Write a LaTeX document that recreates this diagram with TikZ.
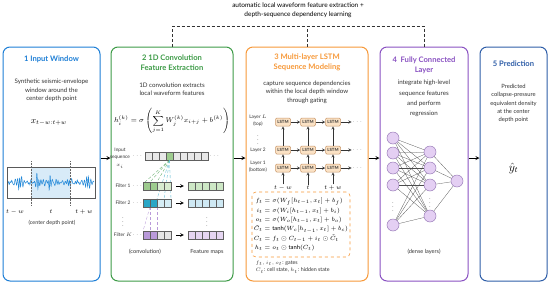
\documentclass[tikz,border=0pt]{standalone}
\usepackage{amsmath, amssymb}
\usepackage{fontspec}
\setmainfont{Lato}
\usepackage{tikz}

\definecolor{inblue}{HTML}{1E7FD6}
\definecolor{convgreen}{HTML}{3D9B47}
\definecolor{lstmorange}{HTML}{F7993A}
\definecolor{fcpurple}{HTML}{8A52C2}
\definecolor{predblue}{HTML}{2F5EA8}
\definecolor{txtgray}{HTML}{333333}
\definecolor{waveblue}{HTML}{2288D8}
\definecolor{winshade}{HTML}{D8EBF8}
\definecolor{fonedark}{HTML}{9DCB8E}
\definecolor{fonelight}{HTML}{D7EBD0}
\definecolor{ftwodark}{HTML}{2AA6C6}
\definecolor{ftwolight}{HTML}{D5EDF5}
\definecolor{fkdark}{HTML}{B99AD9}
\definecolor{fklight}{HTML}{E4E4E4}
\definecolor{mapgreen}{HTML}{CDE7C5}
\definecolor{mapblue}{HTML}{CFE9F4}
\definecolor{mappurple}{HTML}{E6D6F2}
\definecolor{lstmfill}{HTML}{FBE2C5}
\definecolor{lstmedge}{HTML}{C8976A}
\definecolor{neuronfill}{HTML}{E4CFF3}
\definecolor{neuronedge}{HTML}{9B7DBA}

\begin{document}
\begin{tikzpicture}[x=1pt, y=-1pt, >=stealth,
    panel/.style={draw=#1, line width=1pt, rounded corners=7pt, fill=white, minimum height=234pt},
    ptitle/.style={font=\fontsize{7.6}{10}\selectfont\bfseries, align=center, text=#1},
    ptext/.style={font=\fontsize{6.2}{8.5}\selectfont, align=center, text=txtgray},
    lbl/.style={font=\fontsize{4.8}{7.8}\selectfont, align=center, text=txtgray},
    cell/.style={draw=gray!75!black, line width=0.35pt, minimum width=7pt, minimum height=8pt, inner sep=0pt, fill=#1},
    lstm/.style={draw=lstmedge, fill=lstmfill, line width=0.5pt, rounded corners=1.2pt, minimum width=15pt, minimum height=8pt, inner sep=0pt, font=\fontsize{4.3}{5}\selectfont\bfseries, text=txtgray},
    neuron/.style={circle, draw=neuronedge, fill=neuronfill, line width=0.5pt, minimum size=12pt, inner sep=0pt},
    flow/.style={->, line width=0.8pt},
    link/.style={->, line width=0.45pt, txtgray},
    wire/.style={line width=0.25pt, gray!60!black},
    bus/.style={line width=0.8pt, txtgray, dash pattern=on 3pt off 2pt},
    declare function={wenv(\u)=4.3+9*exp(max(-20,-((\u-50)/1.0)^2))+5*exp(max(-20,-((\u-37)/1.6)^2))+3*exp(max(-20,-((\u-20)/2.5)^2))+3*exp(max(-20,-((\u-88)/2)^2))-2*exp(max(-20,-((\u-63)/5)^2));
      wsig(\u)=0.5*sin(151*\u+80*sin(37*\u))+0.3*sin(167*\u+40)+0.25*sin(71*\u+10);}]
  \useasboundingbox (0,0) rectangle (550,285);

  % 5つのパネル
  \node[panel=inblue, minimum width=97pt] (p1) at (51.5,164) {};
  \node[panel=convgreen, minimum width=122pt] (p2) at (172,164) {};
  \node[panel=lstmorange, minimum width=122pt] (p3) at (307,164) {};
  \node[panel=fcpurple, minimum width=88pt] (p4) at (424,164) {};
  \node[panel=predblue, minimum width=67pt] (p5) at (513.5,164) {};
  \draw[flow] ([yshift=6pt]p1.east) -- ([yshift=6pt]p2.west);
  \draw[flow] ([yshift=6pt]p2.east) -- ([yshift=6pt]p3.west);
  \draw[flow] ([yshift=6pt]p3.east) -- ([yshift=6pt]p4.west);
  \draw[flow] ([yshift=6pt]p4.east) -- ([yshift=6pt]p5.west);

  % 上の破線
  \coordinate (bus2) at (p2.north |- 0,26);
  \coordinate (bus3) at (p3.north |- 0,26);
  \coordinate (bus4) at (p4.north |- 0,26);
  \draw[bus] (p2.north) -- (bus2) -- (bus4) -- (p4.north);
  \draw[bus] (p3.north) -- (bus3);
  \node[font=\fontsize{6.5}{9.5}\selectfont, align=center, text=black] (toplab) at (298,10)
    {automatic local waveform feature extraction +\\depth-sequence dependency learning};

  % 1 入力窓
  \node[ptitle=inblue] (t1) at (51.5,59) {1 Input Window};
  \node[ptext] (d1) at (51.5,90.5) {Synthetic seismic-envelope\\window around the\\center depth point};
  \node[font=\fontsize{9}{10}\selectfont] (xwin) at (49,122) {$x_{t-w:t+w}$};
  \fill[winshade] (31,167) rectangle (70,198);
  \begin{scope}
    \clip (7,167) rectangle (95,198);
    \draw[waveblue, line width=0.5pt] plot[domain=8:94, samples=300] (\x, {182.5-wenv(\x)*wsig(\x)});
  \end{scope}
  \draw[gray!70!black, line width=0.6pt] (7,167) rectangle (95,198);
  \draw[densely dotted, gray!80!black, line width=0.5pt] (31,161) -- (31,205);
  \draw[densely dotted, gray!80!black, line width=0.5pt] (70,161) -- (70,205);
  \node[font=\fontsize{6.5}{8}\selectfont] (tminus) at (15,212) {$t-w$};
  \node[font=\fontsize{6.5}{8}\selectfont] (tzero) at (51,212) {$t$};
  \node[font=\fontsize{6.5}{8}\selectfont] (tplus) at (84,212) {$t+w$};
  \node[ptext, font=\fontsize{5.4}{7}\selectfont] (cdp) at (52,223) {(center depth point)};

  % 2 1D畳み込み
  \node[ptitle=convgreen] (t2) at (172,63) {2 1D Convolution\\Feature Extraction};
  \node[ptext] (d2) at (172,89) {1D convolution extracts\\local waveform features};
  \node[font=\fontsize{6.9}{9}\selectfont, inner sep=1pt] (conv) at (172,121)
    {$h_i^{(k)} = \sigma\left(\displaystyle\sum_{j=1}^{K} W_j^{(k)} x_{i+j} + b^{(k)}\right)$};
  \node[lbl] (inlab) at (120,158) {Input\\sequence\\$x_i$};
  \foreach \i in {0,...,8} {
    \ifnum\i=3
      \node[cell=fonedark] (in\i) at ({148.5+7*\i},156) {};
    \else
      \node[cell=gray!18] (in\i) at ({148.5+7*\i},156) {};
    \fi
  }
  \node[lbl] (indotl) at (138,156) {$\cdots$};
  \node[lbl] (indotr) at (215,156) {$\cdots$};
  % ファン
  \draw[convgreen!80, densely dashed, line width=0.35pt] (in3.south) -- (145,182);
  \draw[convgreen!80, densely dashed, line width=0.35pt] (in3.south) -- (150,182);
  \draw[convgreen!80, densely dashed, line width=0.35pt] (in3.south) -- (157,182);
  \draw[ftwodark!80, densely dashed, line width=0.35pt] (in3.south) -- (157,199);
  \draw[ftwodark!80, densely dashed, line width=0.35pt] (in3.south) -- (164,199);
  \draw[ftwodark!80, densely dashed, line width=0.35pt] (in3.south) -- (171,199);
  \draw[fkdark, densely dashed, line width=0.35pt] (150,207) -- (143,231);
  \draw[fkdark, densely dashed, line width=0.35pt] (150,207) -- (150,231);
  \draw[fkdark, densely dashed, line width=0.35pt] (157,207) -- (157,231);
  % フィルタと特徴マップ
  \foreach \r/\yy/\cd/\cl/\cm/\name in {1/186/fonedark/fonelight/mapgreen/Filter 1, 2/203/ftwodark/ftwolight/mapblue/Filter 2, K/235/fkdark/fklight/mappurple/Filter $K$} {
    \node[lbl] (lab\r) at (123,\yy) {\name};
    \node[lbl] (fdot\r) at (138,\yy) {$\cdots$};
    \node[cell=\cd] (f\r c0) at (146.5,\yy) {};
    \node[cell=\cd] (f\r c1) at (153.5,\yy) {};
    \node[cell=\cl] (f\r c2) at (160.5,\yy) {};
    \node[cell=\cl] (f\r c3) at (167.5,\yy) {};
    \foreach \m in {0,...,4}
      \node[cell=\cm] (m\r c\m) at ({191.5+7*\m},\yy) {};
    \draw[->, line width=0.6pt] ([xshift=5pt]f\r c3.east) -- ([xshift=-4pt]m\r c0.west);
  }
  \node[lbl] (vdl) at (123,219) {$\vdots$};
  \node[lbl] (vdr) at (207,219) {$\vdots$};
  \node[ptext, font=\fontsize{5.6}{7}\selectfont] (convlab) at (145,252) {(convolution)};
  \node[ptext, font=\fontsize{5.6}{7}\selectfont] (maplab) at (207,252) {Feature maps};

  % 3 多層LSTM
  \node[ptitle=lstmorange] (t3) at (307,62.5) {3 Multi-layer LSTM\\Sequence Modeling};
  \node[ptext] (d3) at (307,92) {capture sequence dependencies\\within the local depth window\\through gating};
  \foreach \c/\xx/\lab in {1/283/t-w, 2/308/t, 3/333/t+w} {
    \node[lstm] (top\c) at (\xx,122) {LSTM};
    \node[lstm] (mid\c) at (\xx,150) {LSTM};
    \node[lstm] (bot\c) at (\xx,168) {LSTM};
    \node[font=\fontsize{5.6}{7}\selectfont, inner sep=1pt] (x\c) at (\xx,188) {$\lab$};
    \draw[link] (bot\c) -- (mid\c);
    \draw[link] (mid\c) -- (top\c);
    \draw[link] (x\c.north) -- (bot\c.south);
  }
  \foreach \r/\yy in {top/122, mid/150, bot/168} {
    \node[lbl, inner sep=1pt] (\r dots) at (358,\yy) {$\cdots$};
    \draw[link] (\r1) -- (\r2);
    \draw[link] (\r2) -- (\r3);
    \draw[link] (\r3) -- (\r dots);
  }
  \node[lbl, font=\fontsize{4.8}{6.8}\selectfont] (layL) at (258,121) {Layer $L$\\(top)};
  \node[lbl] (layd) at (258,137) {$\vdots$};
  \node[lbl] (lay2) at (258,150) {Layer 2};
  \node[lbl, font=\fontsize{4.8}{6.8}\selectfont] (lay1) at (258,167) {Layer 1\\(bottom)};
  \node[draw=lstmorange, dashed, rounded corners=4pt, line width=0.6pt, minimum width=98pt, minimum height=65pt,
        inner sep=1pt, font=\fontsize{5.8}{8.4}\selectfont] (eqs) at (301,224.5)
    {\setlength{\jot}{1pt}$\begin{aligned}
      f_t &= \sigma(W_f[h_{t-1},x_t]+b_f)\\
      i_t &= \sigma(W_i[h_{t-1},x_t]+b_i)\\
      o_t &= \sigma(W_o[h_{t-1},x_t]+b_o)\\
      \tilde{C}_t &= \tanh(W_c[h_{t-1},x_t]+b_c)\\
      C_t &= f_t\odot C_{t-1}+i_t\odot\tilde{C}_t\\
      h_t &= o_t\odot\tanh(C_t)
    \end{aligned}$};
  \node[lbl, anchor=west, align=left, font=\fontsize{5.3}{7}\selectfont, inner sep=0.5pt] (gates) at (255,263) {$f_t, i_t, o_t$: gates};
  \node[lbl, anchor=west, align=left, font=\fontsize{5.3}{7}\selectfont, inner sep=0.5pt] (states) at (255,270.5) {$C_t$: cell state, $h_t$: hidden state};

  % 4 全結合層
  \node[ptitle=fcpurple] (t4) at (424,65) {4 \ Fully Connected\\Layer};
  \node[ptext, font=\fontsize{6.2}{10.3}\selectfont] (d4) at (424,98.5) {integrate high-level\\sequence features\\and perform\\regression};
  \foreach \k/\yy in {1/138, 2/153, 3/168, 4/185, 5/225}
    \node[neuron] (a\k) at (393,\yy) {};
  \node[lbl] (adots) at (393,204) {$\vdots$};
  \foreach \k/\yy in {1/152, 2/168, 3/185, 4/216}
    \node[neuron] (b\k) at (430,\yy) {};
  \node[lbl] (bdots) at (430,200) {$\vdots$};
  \node[neuron] (yout) at (457,181) {};
  \foreach \i in {1,...,5}
    \foreach \j in {1,...,4}
      \draw[wire] (a\i) -- (b\j);
  \foreach \j in {1,...,4}
    \draw[wire] (b\j) -- (yout);
  \node[ptext, font=\fontsize{5.6}{7}\selectfont] (dense) at (424,252) {(dense layers)};

  % 5 予測
  \node[ptitle=predblue] (t5) at (513.5,64) {5 Prediction};
  \node[ptext, font=\fontsize{5.8}{8.3}\selectfont] (d5) at (513.5,103.5) {Predicted\\collapse-pressure\\equivalent density\\at the center\\depth point};
  \node[font=\fontsize{12}{14}\selectfont] (yhat) at (513.5,168) {$\hat{y}_t$};
\end{tikzpicture}
\end{document}
